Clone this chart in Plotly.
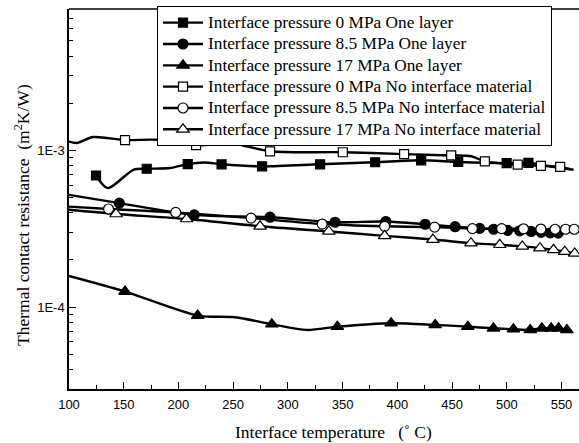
import plotly.graph_objects as go

# ---------------- data ----------------
# 0 MPa, one layer (filled squares)
s1_T = [124.7, 135.4, 158.8, 171.0, 192.3, 208.5, 223.7, 239.4, 276.4, 329.4, 379.7, 421.8, 455.6, 499.9, 519.8, 540.0, 561.0]
s1_R = [6.92e-4, 5.75e-4, 7.53e-4, 7.64e-4, 7.72e-4, 8.19e-4, 8.38e-4, 8.16e-4, 7.91e-4, 8.16e-4, 8.41e-4, 8.65e-4, 8.44e-4, 8.30e-4, 8.34e-4, 7.90e-4, 7.53e-4]
s1_mark = [1, 0, 0, 1, 0, 1, 0, 1, 1, 1, 1, 1, 1, 1, 1, 0, 0]

# 8.5 MPa, one layer (filled circles)
s2_T = [100, 146.0, 214.5, 283.7, 343.1, 389.5, 425.4, 452.8, 475.2, 488.0, 500.8, 511.8, 522.3, 531.4, 539.7, 547.0]
s2_R = [5.21e-4, 4.61e-4, 3.88e-4, 3.75e-4, 3.48e-4, 3.52e-4, 3.38e-4, 3.26e-4, 3.18e-4, 3.14e-4, 3.09e-4, 3.07e-4, 3.04e-4, 3.00e-4, 2.98e-4, 2.97e-4]
s2_mark = [0, 1, 1, 1, 1, 1, 1, 1, 1, 1, 1, 1, 1, 1, 1, 1]

# 17 MPa, one layer (filled triangles)
s3_T = [100, 151.2, 217.6, 251.7, 285.3, 317.3, 345.2, 394.3, 434.6, 464.4, 487.8, 506.1, 521.4, 532.1, 540.6, 547.3, 554.9]
s3_R = [1.58e-4, 1.256e-4, 8.83e-5, 8.61e-5, 7.78e-5, 7.15e-5, 7.50e-5, 7.89e-5, 7.70e-5, 7.50e-5, 7.32e-5, 7.22e-5, 7.15e-5, 7.32e-5, 7.32e-5, 7.32e-5, 7.15e-5]
s3_mark = [0, 1, 1, 0, 1, 0, 1, 1, 1, 1, 1, 1, 1, 1, 1, 1, 1]

# 0 MPa, no interface material (open squares)
s4_T = [100, 107, 122.2, 151.2, 181.4, 216.1, 250.2, 283.7, 350.2, 406.2, 449.2, 467.5, 480.0, 510.0, 531.2, 548.8, 558.0]
s4_R = [1.14e-3, 1.115e-3, 1.218e-3, 1.165e-3, 1.17e-3, 1.08e-3, 1.104e-3, 9.88e-4, 9.74e-4, 9.48e-4, 9.29e-4, 9.19e-4, 8.51e-4, 8.11e-4, 7.98e-4, 7.85e-4, 7.60e-4]
s4_mark = [0, 0, 0, 1, 0, 1, 0, 1, 1, 1, 1, 0, 1, 1, 1, 1, 0]

# 8.5 MPa, no interface material (open circles)
s5_T = [100, 136.1, 197.5, 266.4, 331.3, 388.4, 434.1, 468.6, 495.3, 515.3, 531.2, 544.2, 553.7, 561.6]
s5_R = [4.38e-4, 4.23e-4, 4.02e-4, 3.70e-4, 3.39e-4, 3.28e-4, 3.24e-4, 3.17e-4, 3.17e-4, 3.16e-4, 3.15e-4, 3.14e-4, 3.14e-4, 3.14e-4]
s5_mark = [0, 1, 1, 1, 1, 1, 1, 1, 1, 1, 1, 1, 1, 1]

# 17 MPa, no interface material (open triangles)
s6_T = [100, 143.0, 207.4, 274.6, 337.4, 388.4, 432.5, 467.3, 493.6, 514.2, 530.3, 542.7, 553.0, 562.1]
s6_R = [4.18e-4, 3.93e-4, 3.65e-4, 3.28e-4, 3.04e-4, 2.85e-4, 2.70e-4, 2.56e-4, 2.50e-4, 2.44e-4, 2.38e-4, 2.32e-4, 2.26e-4, 2.20e-4]
s6_mark = [0, 1, 1, 1, 1, 1, 1, 1, 1, 1, 1, 1, 1, 1]

names = [
    "Interface pressure 0 MPa One layer",
    "Interface pressure 8.5 MPa One layer",
    "Interface pressure 17 MPa One layer",
    "Interface pressure 0 MPa No interface material",
    "Interface pressure 8.5 MPa No interface material",
    "Interface pressure 17 MPa No interface material",
]

x_tick_vals = [100, 150, 200, 250, 300, 350, 400, 450, 500, 550]
y_tick_vals = [1e-4, 1e-3]
y_tick_text = ["1E-4", "1E-3"]

# ---------------- figure ----------------
series = [
    (s1_T, s1_R, s1_mark, "square", "black"),
    (s2_T, s2_R, s2_mark, "circle", "black"),
    (s3_T, s3_R, s3_mark, "triangle-up", "black"),
    (s4_T, s4_R, s4_mark, "square", "white"),
    (s5_T, s5_R, s5_mark, "circle", "white"),
    (s6_T, s6_R, s6_mark, "triangle-up", "white"),
]
sizes = {"square": 9, "circle": 10, "triangle-up": 11}

fig = go.Figure()
LW = 2.4
# lines
for (T, R, M, sym, fill) in series:
    fig.add_trace(go.Scatter(x=T, y=R, mode="lines", showlegend=False, hoverinfo="skip",
                             line=dict(color="black", width=LW, shape="spline", smoothing=0.8)))
# markers
for (T, R, M, sym, fill) in series:
    mt = [t for t, m in zip(T, M) if m]
    mr = [r for r, m in zip(R, M) if m]
    fig.add_trace(go.Scatter(x=mt, y=mr, mode="markers", showlegend=False,
                             marker=dict(symbol=sym, size=sizes[sym], color=fill,
                                         line=dict(color="black", width=1.2))))
# legend entries
for (T, R, M, sym, fill), nm in zip(series, names):
    fig.add_trace(go.Scatter(x=[None], y=[None], mode="lines+markers",
                             name='<span style="font-size:17.3px">' + nm + "</span>",
                             line=dict(color="black", width=LW),
                             marker=dict(symbol=sym, size=sizes[sym], color=fill,
                                         line=dict(color="black", width=1.2))))

minor_y = [k * 10 ** e for e in (-5, -4, -3) for k in range(2, 10)]
minor_y = [v for v in minor_y if 3e-5 <= v <= 8e-3]

fig.update_layout(
    width=579, height=443,
    margin=dict(l=69, r=0, t=9, b=54),
    paper_bgcolor="white", plot_bgcolor="white",
    font=dict(family="Liberation Serif", color="black"),
    showlegend=True,
    legend=dict(x=(157 - 69) / 510, y=1.0 + 3 / 380, xanchor="left", yanchor="top",
                bgcolor="white", bordercolor="black", borderwidth=1,
                font=dict(family="Liberation Serif", size=14.1, color="black"),
                itemwidth=40, tracegroupgap=0),
    xaxis=dict(range=[100, 566], tickvals=x_tick_vals, ticks="inside", ticklen=7, tickwidth=1.2,
               showline=True, linecolor="black", linewidth=1.5, showgrid=False, zeroline=False,
               tickfont=dict(family="Liberation Sans", size=13, color="black"),
               ticklabelstandoff=3,
               minor=dict(dtick=25, tick0=100, ticks="inside", ticklen=4, tickwidth=1.2, tickcolor="black", showgrid=False),
               tickcolor="black"),
    yaxis=dict(type="log", range=[-4.5229, -2.0969], tickvals=y_tick_vals, ticktext=y_tick_text,
               ticks="inside", ticklen=7, tickwidth=1.2, tickcolor="black",
               showline=True, linecolor="black", linewidth=1.5, showgrid=False, zeroline=False,
               tickfont=dict(family="Liberation Sans", size=13, color="black"),
               minor=dict(tickvals=minor_y, ticks="inside", ticklen=4, tickwidth=1.2, tickcolor="black", showgrid=False)),
    shapes=[dict(type="line", xref="paper", yref="paper", x0=0, x1=1, y0=1, y1=1,
                 line=dict(color="black", width=1.5))],
    annotations=[
        dict(text="Thermal contact resistance\u00a0\u00a0(m<sup>2</sup>K/W)", textangle=-90,
             xref="paper", yref="paper", x=-(69 - 22) / 510, y=(389 - 215) / 380,
             xanchor="center", yanchor="middle", showarrow=False,
             font=dict(family="Liberation Serif", size=17.5, color="black")),
        dict(text="Interface temperature\u00a0\u00a0\u00a0(\u02da\u00a0C)",
             xref="paper", yref="paper", x=(333 - 69) / 510, y=-(431.5 - 389) / 380,
             xanchor="center", yanchor="middle", showarrow=False,
             font=dict(family="Liberation Serif", size=17.5, color="black")),
    ],
)

fig.write_html("out.html", config={"displayModeBar": False},
               post_script="document.body.style.margin='0px';document.body.style.padding='0px';")
